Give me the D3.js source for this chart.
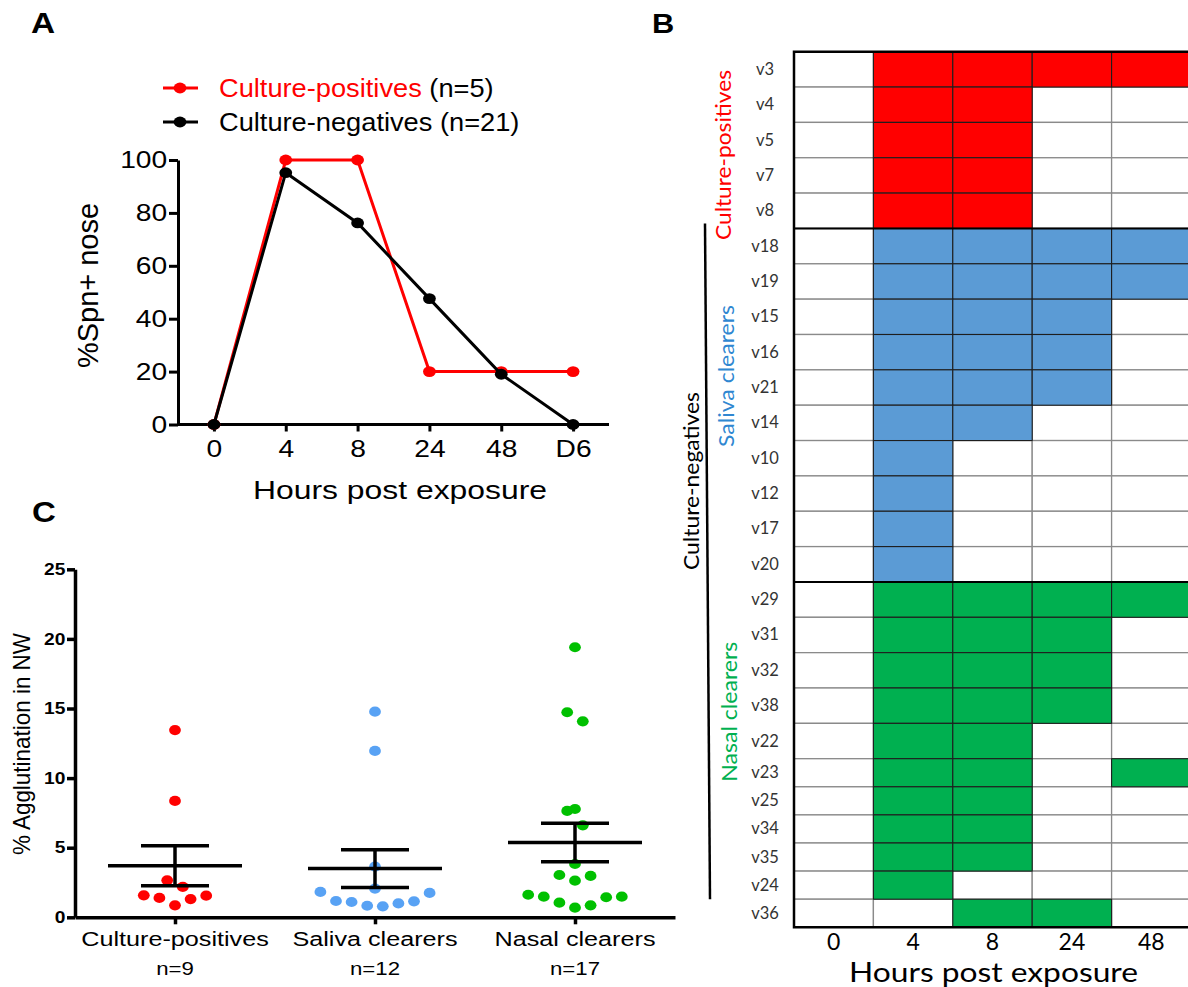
<!DOCTYPE html>
<html><head><meta charset="utf-8">
<script src="https://cdn.jsdelivr.net/npm/d3@7"></script>
<style>body{margin:0;background:#fff}svg{display:block}</style>
</head><body>
<svg id="c" width="1188" height="987"></svg>
<script>
// ---------- Panel A data ----------
const hourCats = ["0","4","8","24","48","D6"];
const posPct = [0,100,100,20,20,20];
const negPct = [0,95.2,76.2,47.6,19.0,0];
const yTicksA = [0,20,40,60,80,100];

// ---------- Panel C data ----------
const groupsC = ["Culture-positives","Saliva clearers","Nasal clearers"];
const groupN = ["n=9","n=12","n=17"];
const aggPos = [13.45,8.36,2.66,2.18,1.58,1.39,0.86,1.31,1.55];
const aggSal = [14.77,11.95,3.64,2.06,1.75,1.15,1.0,0.79,0.83,1.1,1.17,1.82];
const aggNas = [19.4,14.73,14.08,7.64,7.78,6.61,3.83,2.97,3.04,2.63,1.62,1.48,1.05,0.69,0.86,1.44,1.48];
const yTicksC = [0,5,10,15,20,25];

// ---------- Panel B data ----------
const timeCats = ["0","4","8","24","48"];
const subjects = ["v3","v4","v5","v7","v8","v18","v19","v15","v16","v21","v14","v10","v12","v17","v20","v29","v31","v32","v38","v22","v23","v25","v34","v35","v24","v36"];
const subjGroup = [0,0,0,0,0, 1,1,1,1,1,1,1,1,1,1, 2,2,2,2,2,2,2,2,2,2,2];
const carriage = [
  [0,1,1,1,1],[0,1,1,0,0],[0,1,1,0,0],[0,1,1,0,0],[0,1,1,0,0],
  [0,1,1,1,1],[0,1,1,1,1],[0,1,1,1,0],[0,1,1,1,0],[0,1,1,1,0],[0,1,1,0,0],[0,1,0,0,0],[0,1,0,0,0],[0,1,0,0,0],[0,1,0,0,0],
  [0,1,1,1,1],[0,1,1,1,0],[0,1,1,1,0],[0,1,1,1,0],[0,1,1,0,0],[0,1,1,0,1],[0,1,1,0,0],[0,1,1,0,0],[0,1,1,0,0],[0,1,0,0,0],[0,0,1,1,0]
];
const groupNamesB = ["Culture-positives","Saliva clearers","Nasal clearers"];

// ---------- styles ----------
const ARIAL = "'Liberation Sans', Arial, sans-serif";
const CAL = "Lato, 'Open Sans', sans-serif";
const RED = "#ff0000", BLUE_DOT = "#58a2f4", GREEN_DOT = "#00c000";
const CELL = ["#ff0000","#5b9bd5","#00b050"];
const GLABEL = ["#ff0000","#2f87d1","#00b050"];
const SX = 1.2;

const svg = d3.select("#c");

function stretchText(sel, sx){ sel.attr("transform", `scale(${sx},1)`); }

// ================= Panel A =================
const gA = svg.append("g");
const xA = d3.scalePoint().domain(hourCats).range([178,609]).padding(0.5);
const yA = d3.scaleLinear().domain([0,100]).range([424.5,160]);

gA.append("text").attr("transform","translate(31,33) scale(1.15,1)")
  .attr("font-family",ARIAL).attr("font-weight","bold").attr("font-size",29).text("A");

const yAxA = gA.append("g").attr("transform","translate(178,0)")
  .call(d3.axisLeft(yA).tickValues(yTicksA).tickSize(9).tickPadding(0).tickSizeOuter(0));
const xAxA = gA.append("g").attr("transform","translate(0,424.5)")
  .call(d3.axisBottom(xA).tickSize(7).tickPadding(8.5).tickSizeOuter(0));
[yAxA,xAxA].forEach(ax=>{
  ax.selectAll("path,line").attr("stroke","#000").attr("stroke-width",3);
  ax.selectAll("text").attr("font-family",ARIAL).attr("font-size",23.5).attr("fill","#000").call(stretchText,SX);
});
xAxA.select(".domain").attr("d","M178,0H609");

// lines
const lineA = d3.line().x((d,i)=>xA(hourCats[i])).y(d=>yA(d));
[[posPct,RED],[negPct,"#000"]].forEach(([data,col])=>{
  gA.append("path").datum(data).attr("d",lineA).attr("fill","none").attr("stroke",col).attr("stroke-width",3);
  gA.selectAll(null).data(data).enter().append("ellipse")
    .attr("cx",(d,i)=>xA(hourCats[i])).attr("cy",d=>yA(d)).attr("rx",6.4).attr("ry",5.4).attr("fill",col);
});

// legend
const legA = [{t:"Culture-positives",n:" (n=5)",c:RED,y:88},{t:"Culture-negatives",n:" (n=21)",c:"#000",y:122}];
legA.forEach(l=>{
  gA.append("line").attr("x1",163).attr("x2",198).attr("y1",l.y).attr("y2",l.y).attr("stroke",l.c).attr("stroke-width",3);
  gA.append("ellipse").attr("cx",180).attr("cy",l.y).attr("rx",6.4).attr("ry",5.4).attr("fill",l.c);
  const t = gA.append("text").attr("transform",`translate(219,${l.y+9}) scale(1.09,1)`)
    .attr("font-family",ARIAL).attr("font-size",25);
  t.append("tspan").attr("fill",l.c).text(l.t);
  t.append("tspan").attr("fill","#000").text(l.n);
});

gA.append("text").attr("transform","translate(98,285.5) rotate(-90)").attr("text-anchor","middle")
  .attr("font-family",ARIAL).attr("font-size",29).attr("textLength",165).attr("lengthAdjust","spacingAndGlyphs").text("%Spn+ nose");
gA.append("text").attr("x",400).attr("y",499).attr("text-anchor","middle")
  .attr("font-family",ARIAL).attr("font-size",26).attr("textLength",294).attr("lengthAdjust","spacingAndGlyphs").text("Hours post exposure");

// ================= Panel C =================
const gC = svg.append("g");
const xC = d3.scalePoint().domain(groupsC).range([75,675]).padding(0.5);
const yC = d3.scaleLinear().domain([0,25]).range([917.3,569.3]);

gC.append("text").attr("transform","translate(32,522) scale(1.1,1)")
  .attr("font-family",ARIAL).attr("font-weight","bold").attr("font-size",30).text("C");

const yAxC = gC.append("g").attr("transform","translate(75,0)")
  .call(d3.axisLeft(yC).tickValues(yTicksC).tickSize(8).tickPadding(0).tickSizeOuter(0));
yAxC.selectAll("path,line").attr("stroke","#000").attr("stroke-width",3.5);
yAxC.selectAll("text").attr("font-family",ARIAL).attr("font-weight","bold").attr("font-size",16).attr("fill","#000").call(stretchText,SX);

const xAxC = gC.append("g").attr("transform","translate(0,917.3)")
  .call(d3.axisBottom(xC).tickSize(7).tickSizeOuter(0).tickFormat(""));
xAxC.selectAll("path,line").attr("stroke","#000").attr("stroke-width",3.5);

gC.append("text").attr("transform","translate(30,744) rotate(-90)").attr("text-anchor","middle")
  .attr("font-family",ARIAL).attr("font-size",24).attr("textLength",222).attr("lengthAdjust","spacingAndGlyphs").text("% Agglutination in NW");

groupsC.forEach((g,i)=>{
  gC.append("text").attr("transform",`translate(${xC(g)},945.5) scale(${SX},1)`).attr("text-anchor","middle")
    .attr("font-family",ARIAL).attr("font-size",21).text(g);
  gC.append("text").attr("transform",`translate(${xC(g)},975) scale(${SX},1)`).attr("text-anchor","middle")
    .attr("font-family",ARIAL).attr("font-size",18.5).text(groupN[i]);
});

function swarm(vals, cx, y, D){
  const sorted = vals.slice().sort((a,b)=>a-b);
  const rows=[]; let cur=null;
  sorted.forEach(v=>{
    if(!cur || y(cur.start)-y(v) >= D){ cur={start:v,pts:[]}; rows.push(cur); }
    cur.pts.push(v);
  });
  const out=[];
  rows.forEach(r=>{
    const n=r.pts.length;
    r.pts.forEach((v,k)=>{
      let off;
      if(n%2===1) off = k===0?0:(k%2===1?(k+1)/2:-k/2);
      else off = k%2===0?(k/2+0.5):-((k-1)/2+0.5);
      out.push({v, x:cx+off*D, y:y(v)});
    });
  });
  return out;
}
const seriesC = [[aggPos,RED],[aggSal,BLUE_DOT],[aggNas,GREEN_DOT]];
seriesC.forEach(([vals,col],i)=>{
  const pts = swarm(vals, xC(groupsC[i]), yC, 15.6);
  gC.selectAll(null).data(pts).enter().append("ellipse")
    .attr("cx",d=>d.x).attr("cy",d=>d.y).attr("rx",5.9).attr("ry",5.1).attr("fill",col);
});
seriesC.forEach(([vals],i)=>{
  const cx = xC(groupsC[i]);
  const m = d3.mean(vals), sem = d3.deviation(vals)/Math.sqrt(vals.length);
  const g = gC.append("g").attr("stroke","#000").attr("stroke-width",3.5);
  g.append("line").attr("x1",cx-67).attr("x2",cx+67).attr("y1",yC(m)).attr("y2",yC(m));
  g.append("line").attr("x1",cx).attr("x2",cx).attr("y1",yC(m+sem)).attr("y2",yC(m-sem));
  [m+sem,m-sem].forEach(v=>g.append("line").attr("x1",cx-34).attr("x2",cx+34).attr("y1",yC(v)).attr("y2",yC(v)));
});

// ================= Panel B =================
const gB = svg.append("g");
const xB = d3.scaleBand().domain(timeCats).range([794,1191]);
const yB = d3.scaleLinear().domain([0,20,26]).range([51.7,758.7,927.3]);

gB.append("text").attr("transform","translate(652,33) scale(1.1,1)")
  .attr("font-family",ARIAL).attr("font-weight","bold").attr("font-size",28).text("B");

const cells = [];
subjects.forEach((s,i)=>timeCats.forEach((t,j)=>cells.push({i,t,on:carriage[i][j],g:subjGroup[i]})));
gB.selectAll(null).data(cells.filter(d=>!d.on)).enter().append("rect")
  .attr("x",d=>xB(d.t)).attr("y",d=>yB(d.i)).attr("width",xB.bandwidth()).attr("height",d=>yB(d.i+1)-yB(d.i))
  .attr("fill","#fff").attr("stroke","#8a8a8a").attr("stroke-width",1.3);
gB.selectAll(null).data(cells.filter(d=>d.on)).enter().append("rect")
  .attr("x",d=>xB(d.t)).attr("y",d=>yB(d.i)).attr("width",xB.bandwidth()).attr("height",d=>yB(d.i+1)-yB(d.i))
  .attr("fill",d=>CELL[d.g]).attr("stroke","#1e1e1e").attr("stroke-width",1.1);

// group separators and border
const sepRows = [5,15];
sepRows.forEach(r=>gB.append("line").attr("x1",794).attr("x2",1191).attr("y1",yB(r)).attr("y2",yB(r)).attr("stroke","#000").attr("stroke-width",2));
gB.append("path").attr("d",`M1191,${yB(0)}H794V${yB(26)}H1191`).attr("fill","none").attr("stroke","#000").attr("stroke-width",2.5);

// row labels
gB.selectAll(null).data(subjects).enter().append("text")
  .attr("x",765).attr("y",(d,i)=>(yB(i)+yB(i+1))/2+5.5).attr("text-anchor","middle")
  .attr("font-family",CAL).attr("font-size",16.5).attr("fill","#333").text(d=>d);

// x labels
gB.selectAll(null).data(timeCats).enter().append("text")
  .attr("x",d=>xB(d)+xB.bandwidth()/2).attr("y",950).attr("text-anchor","middle")
  .attr("font-family",CAL).attr("font-size",23).attr("fill","#000").text(d=>d);
gB.append("text").attr("x",993.5).attr("y",982).attr("text-anchor","middle")
  .attr("font-family",CAL).attr("font-size",26).attr("textLength",289).attr("lengthAdjust","spacingAndGlyphs").text("Hours post exposure");

// group labels
const gl = [
  {t:groupNamesB[0],c:GLABEL[0],x:731,y:155,len:170},
  {t:groupNamesB[1],c:GLABEL[1],x:734,y:376,len:142},
  {t:groupNamesB[2],c:GLABEL[2],x:737,y:711.7,len:140},
  {t:"Culture-negatives",c:"#000",x:698.5,y:481,len:178}
];
gl.forEach(l=>gB.append("text").attr("transform",`translate(${l.x},${l.y}) rotate(-90)`).attr("text-anchor","middle")
  .attr("font-family",CAL).attr("font-size",22).attr("fill",l.c).attr("textLength",l.len).attr("lengthAdjust","spacingAndGlyphs").text(l.t));
gB.append("line").attr("x1",705).attr("y1",yB(5)-5).attr("x2",710).attr("y2",yB(25)).attr("stroke","#000").attr("stroke-width",2.5);
</script>
</body></html>
